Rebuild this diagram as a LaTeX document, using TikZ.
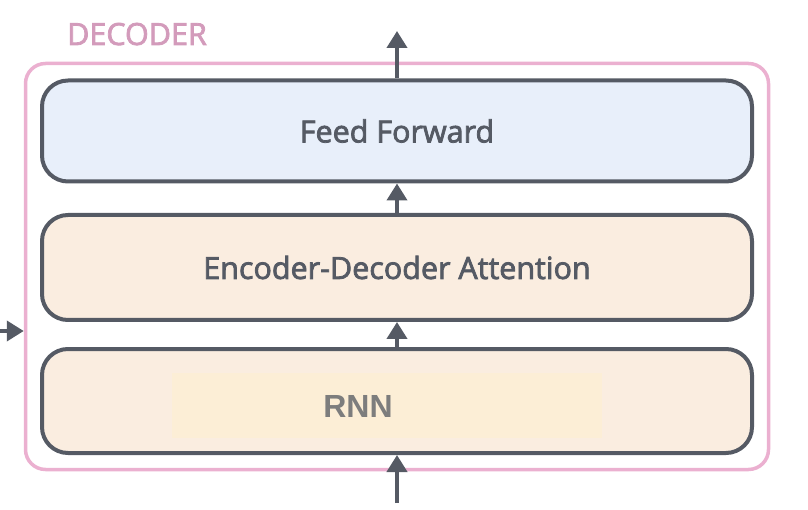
\documentclass[tikz,border=0pt]{standalone}
\usepackage{fontspec}
\setmainfont{Open Sans}
\newfontfamily\sbfont[FakeBold=2.5]{Open Sans}
\newfontfamily\arialfont{Liberation Sans}
\usetikzlibrary{arrows.meta}
\definecolor{stroke}{HTML}{555A64}
\definecolor{ffill}{HTML}{E8EFFA}
\definecolor{efill}{HTML}{FAEDE0}
\definecolor{rnnbgc}{HTML}{FCEED6}
\definecolor{pinkline}{HTML}{EBB0D0}
\definecolor{pinktext}{HTML}{D39BBB}
\definecolor{rnntext}{HTML}{7D7D7D}
\tikzset{
  layerbox/.style={draw=stroke, line width=4pt, rounded corners=26pt,
    minimum width=710pt, inner sep=0pt, text=stroke,
    font=\sbfont\fontsize{30.5}{32}\selectfont},
  flow/.style={draw=stroke, line width=4pt,
    -{Triangle[width=20pt,length=17pt]}},
}
\begin{document}
\begin{tikzpicture}[x=1pt,y=-1pt]
\useasboundingbox (0,0) rectangle (808,510);
\node[draw=pinkline, line width=3.5pt, rounded corners=20pt, minimum width=743pt,
  minimum height=406pt, inner sep=0pt] (decoder) at (397,266.5) {};
\node[anchor=base west, text=pinktext, inner sep=0pt,
  font=\sbfont\fontsize{30.5}{32}\selectfont] (declabel) at (67,45) {DECODER};
\node[layerbox, fill=ffill, minimum height=101pt] (ff) at (397,131) {Feed Forward};
\node[layerbox, fill=efill, minimum height=105pt] (eda) at (397,267.5) {Encoder-Decoder Attention};
\node[layerbox, fill=efill, minimum height=104pt] (rnnbox) at (397,401) {};
\node[fill=rnnbgc, minimum width=430pt, minimum height=65pt, inner sep=0pt] (rnnbg) at (387,405.5) {};
\node[anchor=base, text=rnntext, inner sep=0pt,
  font=\arialfont\bfseries\fontsize{32}{34}\selectfont] (rnn) at (358,417) {RNN};
\coordinate (out) at (397,31);
\coordinate (inbot) at (397,503);
\coordinate (inleft) at (0,331);
\draw[flow] (ff.north) -- (out);
\draw[flow] (eda.north) -- (ff.south);
\draw[flow] (rnnbox.north) -- (eda.south);
\draw[flow] (inbot) -- (rnnbox.south);
\draw[flow] (inleft) -- (inleft -| decoder.west);
\end{tikzpicture}
\end{document}
